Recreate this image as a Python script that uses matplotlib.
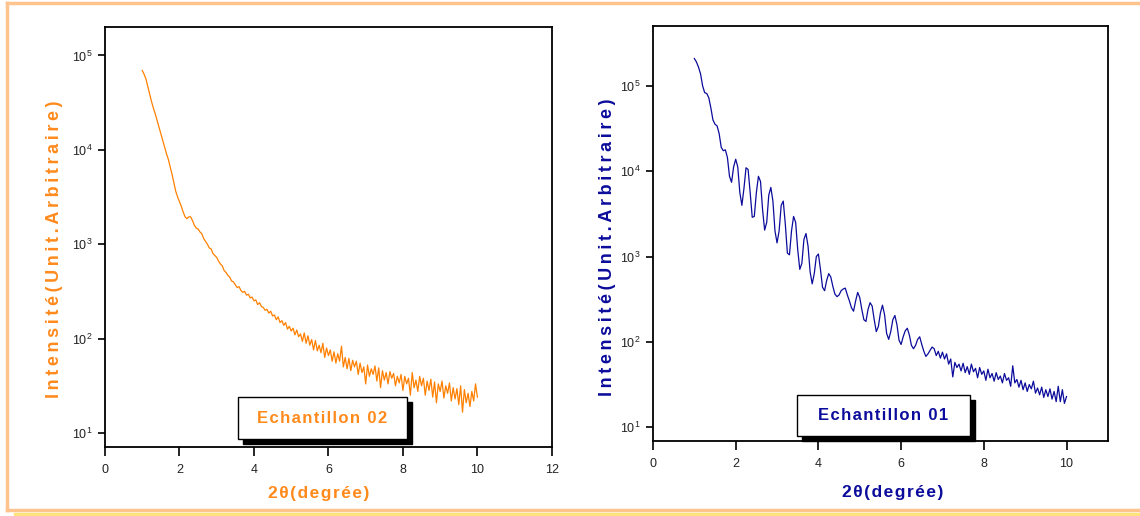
#!/usr/bin/env python3
"""
Reflectivity curves (XRR) for two samples, log intensity vs 2theta
"""

import matplotlib.pyplot as plt
import numpy as np
from matplotlib.patches import Rectangle
from matplotlib.lines import Line2D
from matplotlib.ticker import NullLocator, FixedLocator

plt.rcParams['font.family'] = ['Liberation Sans', 'DejaVu Sans']
plt.rcParams['mathtext.fontset'] = 'custom'
plt.rcParams['mathtext.rm'] = 'Liberation Sans'
plt.rcParams['mathtext.it'] = 'Liberation Sans'

# ============================================================================
# Data, scan step 0.05 deg from 1 to 10 deg
# values are log10(intensity)
# ============================================================================
two_theta = np.linspace(1.0, 10.0, 181)

# Echantillon 02 (orange, left)
log_i02 = np.array([
    4.84, 4.80, 4.75, 4.67, 4.59, 4.51, 4.44, 4.38, 4.31, 4.24,
    4.17, 4.10, 4.03, 3.96, 3.90, 3.82, 3.74, 3.65, 3.56, 3.50,
    3.45, 3.40, 3.34, 3.29, 3.27, 3.29, 3.29, 3.25, 3.20, 3.17,
    3.16, 3.13, 3.11, 3.06, 3.03, 3.00, 2.96, 2.95, 2.90, 2.88,
    2.86, 2.82, 2.79, 2.77, 2.72, 2.70, 2.67, 2.65, 2.61, 2.60,
    2.57, 2.54, 2.55, 2.51, 2.49, 2.50, 2.46, 2.47, 2.43, 2.44,
    2.40, 2.41, 2.36, 2.38, 2.34, 2.33, 2.30, 2.31, 2.27, 2.29,
    2.24, 2.25, 2.20, 2.23, 2.17, 2.19, 2.14, 2.17, 2.10, 2.13,
    2.08, 2.11, 2.04, 2.09, 2.02, 2.05, 1.97, 2.06, 1.95, 2.03,
    1.93, 1.99, 1.88, 1.98, 1.87, 1.93, 1.85, 1.95, 1.80, 1.90,
    1.82, 1.88, 1.76, 1.86, 1.74, 1.84, 1.76, 1.92, 1.70, 1.80,
    1.68, 1.79, 1.66, 1.77, 1.70, 1.76, 1.62, 1.74, 1.64, 1.70,
    1.52, 1.72, 1.60, 1.68, 1.62, 1.71, 1.55, 1.69, 1.48, 1.66,
    1.56, 1.64, 1.52, 1.65, 1.58, 1.63, 1.50, 1.60, 1.53, 1.62,
    1.45, 1.60, 1.52, 1.58, 1.40, 1.64, 1.48, 1.56, 1.44, 1.60,
    1.50, 1.58, 1.40, 1.55, 1.45, 1.57, 1.38, 1.54, 1.32, 1.52,
    1.44, 1.55, 1.37, 1.50, 1.42, 1.53, 1.34, 1.48, 1.36, 1.47,
    1.30, 1.50, 1.22, 1.46, 1.32, 1.42, 1.28, 1.44, 1.34, 1.52,
    1.38,
])

# Echantillon 01 (navy, right) - Kiessig fringes
log_i01 = np.array([
    5.32, 5.28, 5.22, 5.14, 5.00, 4.92, 4.91, 4.86, 4.74, 4.60,
    4.55, 4.53, 4.44, 4.28, 4.24, 4.25, 4.16, 3.94, 3.87, 4.05,
    4.14, 4.05, 3.75, 3.60, 3.80, 4.04, 4.02, 3.75, 3.46, 3.47,
    3.75, 3.94, 3.88, 3.55, 3.31, 3.40, 3.72, 3.81, 3.65, 3.30,
    3.16, 3.30, 3.60, 3.65, 3.38, 3.04, 3.02, 3.30, 3.47, 3.40,
    3.08, 2.85, 2.92, 3.20, 3.27, 3.12, 2.82, 2.68, 2.80, 3.00,
    3.03, 2.85, 2.64, 2.60, 2.72, 2.80, 2.76, 2.65, 2.56, 2.53,
    2.55, 2.60, 2.62, 2.63, 2.55, 2.48, 2.40, 2.36, 2.48, 2.58,
    2.52, 2.38, 2.26, 2.24, 2.38, 2.46, 2.42, 2.26, 2.12, 2.18,
    2.34, 2.43, 2.32, 2.10, 2.03, 2.12, 2.26, 2.31, 2.20, 2.02,
    1.97, 2.06, 2.13, 2.16, 2.08, 1.96, 1.92, 1.96, 2.03, 2.06,
    1.97, 1.89, 1.83, 1.86, 1.90, 1.94, 1.92, 1.84, 1.89, 1.81,
    1.88, 1.80, 1.86, 1.74, 1.80, 1.59, 1.76, 1.70, 1.74, 1.66,
    1.75, 1.64, 1.71, 1.62, 1.74, 1.65, 1.69, 1.58, 1.70, 1.62,
    1.66, 1.55, 1.68, 1.58, 1.63, 1.54, 1.64, 1.56, 1.60, 1.52,
    1.63, 1.55, 1.58, 1.48, 1.72, 1.52, 1.56, 1.47, 1.55, 1.44,
    1.52, 1.42, 1.50, 1.45, 1.54, 1.40, 1.46, 1.38, 1.47, 1.35,
    1.44, 1.36, 1.45, 1.33, 1.42, 1.30, 1.48, 1.30, 1.44, 1.28,
    1.36,
])

y_ticks = [1e1, 1e2, 1e3, 1e4, 1e5]
y_tick_labels = [r'$10^{1}$', r'$10^{2}$', r'$10^{3}$', r'$10^{4}$', r'$10^{5}$']

ORANGE = '#FF8000'
ORANGE_TXT = '#FF8A1C'
NAVY = '#0C0C9C'
THIN = '\u2009'   # letter spacing for the y titles
HAIR = '\u200a'   # lighter spacing for the x titles and sample boxes


def spaced(s, sep=THIN):
    return sep.join(list(s))


def setup_axes(ax, xmax, xticks, ylim):
    ax.set_yscale('log')
    ax.set_xlim(0, xmax)
    ax.set_ylim(*ylim)
    ax.xaxis.set_major_locator(FixedLocator(xticks))
    ax.set_xticklabels([str(t) for t in xticks])
    ax.yaxis.set_major_locator(FixedLocator(y_ticks))
    ax.set_yticklabels(y_tick_labels)
    ax.yaxis.set_minor_locator(NullLocator())
    ax.xaxis.set_minor_locator(NullLocator())
    ax.tick_params(axis='x', direction='out', length=6.5, width=1.2,
                   labelsize=9, labelcolor='#222222', pad=5.5)
    ax.tick_params(axis='y', direction='out', length=5, width=1.2,
                   labelsize=9, labelcolor='#222222', pad=4)
    for sp in ax.spines.values():
        sp.set_linewidth(1.3)


def legend_box(ax, x0, x1, y0, y1, dx, dy, text, color):
    shadow = Rectangle((x0 + dx, y0 - dy), x1 - x0, y1 - y0,
                       transform=ax.transAxes, facecolor='black',
                       edgecolor='black', clip_on=False, zorder=5)
    box = Rectangle((x0, y0), x1 - x0, y1 - y0, transform=ax.transAxes,
                    facecolor='white', edgecolor='black', linewidth=1.0,
                    clip_on=False, zorder=6)
    ax.add_patch(shadow)
    ax.add_patch(box)
    ax.text((x0 + x1) / 2, (y0 + y1) / 2, spaced(text, HAIR), transform=ax.transAxes,
            ha='center', va='center', fontsize=12, fontweight='bold',
            color=color, zorder=7)


fig = plt.figure(figsize=(11.4, 5.16), dpi=100)

# ---------------------------------------------------------------- left panel
ax1 = fig.add_axes([0.0921, 0.1337, 0.392, 0.814])
ax1.plot(two_theta, 10 ** log_i02, color=ORANGE, linewidth=0.9)
setup_axes(ax1, 12, [0, 2, 4, 6, 8, 10, 12], (7.1, 2.0e5))
ax1.text(-0.112, 0.47, spaced('Intensité(Unit.Arbitraire)'), transform=ax1.transAxes,
         rotation=90, ha='center', va='center', fontsize=13,
         fontweight='bold', color=ORANGE_TXT)
ax1.text(0.479, -0.110, spaced('2θ(degrée)', HAIR), transform=ax1.transAxes,
         ha='center', va='center', fontsize=12.5, fontweight='bold', color=ORANGE_TXT)
legend_box(ax1, 0.2975, 0.6756, 0.019, 0.119, 0.012, 0.012, 'Echantillon 02', ORANGE_TXT)

# --------------------------------------------------------------- right panel
ax2 = fig.add_axes([0.5728, 0.1453, 0.399, 0.804])
ax2.plot(two_theta, 10 ** log_i01, color=NAVY, linewidth=0.9)
setup_axes(ax2, 11, [0, 2, 4, 6, 8, 10], (6.9, 5.0e5))
ax2.text(-0.101, 0.467, spaced('Intensité(Unit.Arbitraire)'), transform=ax2.transAxes,
         rotation=90, ha='center', va='center', fontsize=13,
         fontweight='bold', color=NAVY)
ax2.text(0.527, -0.125, spaced('2θ(degrée)', HAIR), transform=ax2.transAxes,
         ha='center', va='center', fontsize=12.5, fontweight='bold', color=NAVY)
legend_box(ax2, 0.3165, 0.6967, 0.012, 0.111, 0.011, 0.012, 'Echantillon 01', NAVY)

# ---------------------------------------------------------- orange page frame
W, H = 1140.0, 516.0
frame = '#FFC48E'
fig.add_artist(Line2D([7 / W, 1.0], [1 - 3 / H, 1 - 3 / H], color=frame, linewidth=2.5))
fig.add_artist(Line2D([7 / W, 7 / W], [1 - 3 / H, 1 - 510 / H], color=frame, linewidth=2.5))
fig.add_artist(Line2D([7 / W, 1.0], [1 - 510 / H, 1 - 510 / H], color=frame, linewidth=2.5))
fig.add_artist(Line2D([15 / W, 1.0], [1 - 513.5 / H, 1 - 513.5 / H], color='#FFE27A', linewidth=2.5))

plt.savefig('out.png', dpi=100)
print("Saved: out.png")
plt.close()
